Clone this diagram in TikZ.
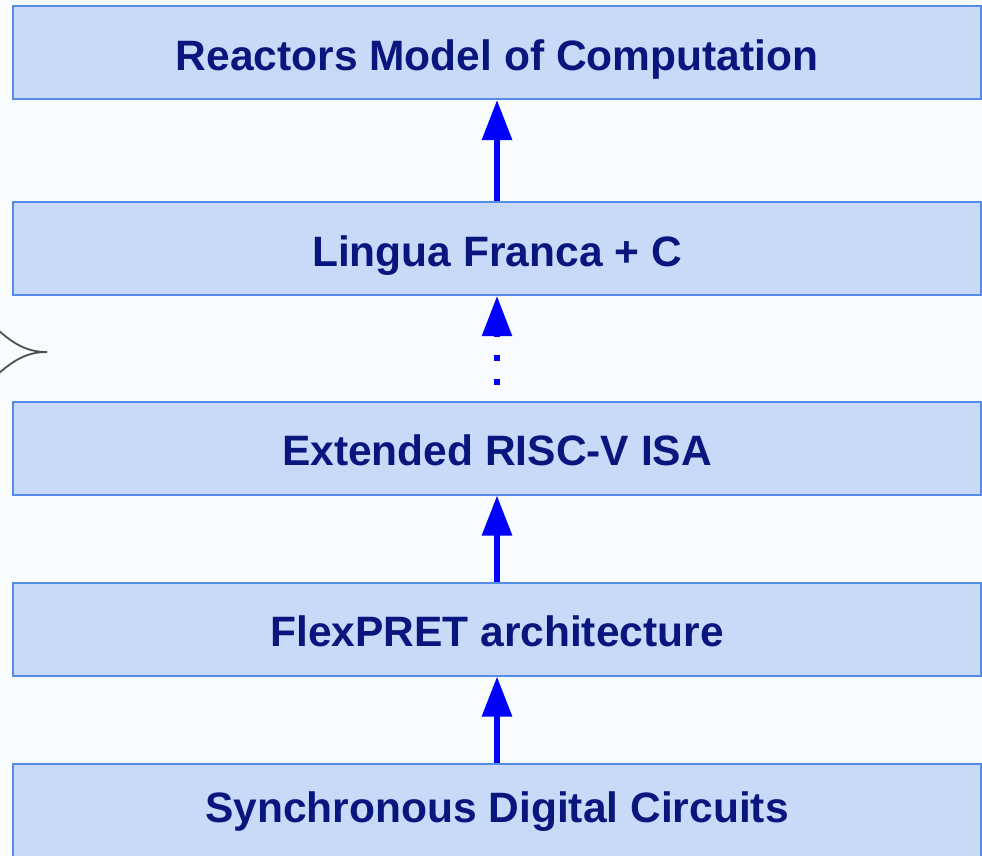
\documentclass[tikz,border=0pt]{standalone}
\usepackage{fontspec}
\setmainfont{Liberation Sans}
\usetikzlibrary{arrows.meta}
\definecolor{bgcol}{RGB}{248,252,254}
\definecolor{boxfill}{RGB}{201,218,248}
\definecolor{boxline}{RGB}{84,140,230}
\definecolor{txtcol}{RGB}{8,22,125}
\definecolor{arrcol}{RGB}{0,0,255}
\definecolor{cuspcol}{RGB}{80,80,80}
\tikzset{
  layerbox/.style={draw=boxline, line width=2pt, fill=boxfill, rectangle,
    minimum width=968pt, minimum height=93pt, inner sep=0pt,
    text height=35pt, text depth=0pt, text=txtcol,
    font=\fontsize{42.5}{50}\selectfont\bfseries},
  uparrow/.style={draw=arrcol, line width=6pt,
    -{Triangle[length=40pt,width=29pt]}},
  dotarrow/.style={uparrow, line width=5.5pt, dash pattern=on 5.5pt off 18.5pt, dash phase=8pt},
  cusp/.style={draw=cuspcol, line width=1.8pt}
}
\begin{document}
\begin{tikzpicture}[x=1pt,y=-1pt]
\fill[bgcol] (0,0) rectangle (982,855);
\useasboundingbox (0,0) rectangle (982,855);
\node[layerbox] (b1) at (497,52.5) {Reactors Model of Computation};
\node[layerbox] (b2) at (497,248.5) {Lingua Franca + C};
\node[layerbox] (b3) at (497,448) {Extended RISC-V ISA};
\node[layerbox] (b4) at (497,629) {FlexPRET architecture};
\node[layerbox, minimum height=110pt, text height=35pt, text depth=29pt] (b5) at (497,819) {Synchronous Digital Circuits};
\draw[uparrow] (b2.north) -- (b1.south);
\draw[dotarrow] (b3.north) -- (b2.south);
\draw[uparrow] (b4.north) -- (b3.south);
\draw[uparrow] (b5.north) -- (b4.south);
\coordinate (tip) at (47,352);
\coordinate (ua) at (-2,330);
\coordinate (la) at (-2,374);
\draw[cusp] (ua) .. controls (15,345) and (28,352) .. (tip);
\draw[cusp] (la) .. controls (15,359) and (28,352) .. (tip);
\end{tikzpicture}
\end{document}
